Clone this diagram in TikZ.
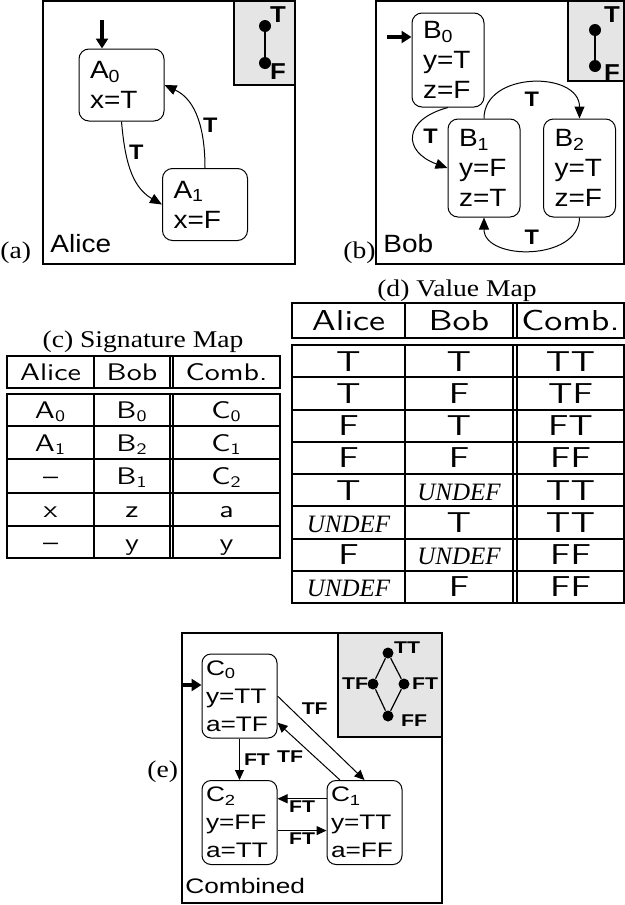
\documentclass[tikz,border=0pt]{standalone}
\usepackage{fontspec}
\setmainfont{Liberation Serif}
\newfontfamily\dgfont[FakeStretch=1.12]{Liberation Sans}
\newfontfamily\dgfontc[FakeStretch=1.25]{Liberation Sans}
\newfontfamily\capfont[FakeStretch=1.15]{Liberation Serif}
\newfontfamily\tabfont[FakeStretch=1.25]{lmsans10-regular.otf}
\usetikzlibrary{arrows.meta,positioning}

\newcommand{\undefval}{{\rmfamily\itshape\fontsize{12.5}{14}\selectfont UNDEF}}

\tikzset{
  st/.style={draw, line width=.5pt, rounded corners=5pt, align=left, inner xsep=5.5pt, inner ysep=0pt, text width=#1, font=\dgfont\fontsize{12.5}{15}\selectfont},
  stc/.style={draw, line width=.5pt, rounded corners=4.5pt, align=left, inner xsep=2pt, inner ysep=0pt, text width=33.5pt, minimum height=42pt, font=\dgfontc\fontsize{10.5}{14}\selectfont},
  trans/.style={-{Triangle[length=6pt,width=5pt]}, line width=.5pt},
  transc/.style={-{Triangle[length=5pt,width=4.5pt]}, line width=.5pt},
  init/.style={-{Triangle[length=5pt,width=6pt]}, line width=1.6pt},
  lbl/.style={font=\dgfont\bfseries\fontsize{10.5}{12}\selectfont, inner sep=1.5pt},
  latlbl/.style={font=\dgfont\bfseries\fontsize{11.5}{13}\selectfont, inner sep=0pt},
  lblc/.style={font=\dgfontc\bfseries\fontsize{8.5}{10}\selectfont, inner sep=1pt},
  panel/.style={line width=.6pt},
  lat/.style={draw, fill=black!10, line width=.6pt},
  dot/.style={circle, fill, inner sep=0pt, minimum size=#1},
  dot/.default=6pt,
  captxt/.style={font=\capfont\fontsize{12}{14}\selectfont, inner sep=0pt},
  pname/.style={font=\dgfont\fontsize{12.5}{15}\selectfont, inner sep=0pt},
  tabc/.style={font=\tabfont\fontsize{12}{14}\selectfont, inner sep=0pt, anchor=base},
  tabd/.style={font=\tabfont\fontsize{14.4}{16}\selectfont, inner sep=0pt, anchor=base},
  rule/.style={line width=1pt},
}

\begin{document}
\begin{tikzpicture}[x=.5pt,y=.5pt]
\useasboundingbox (0,0) rectangle (625,-905);

% (a) Alice
\draw[panel] (43,-1) rectangle (295,-264);
\draw[lat] (234,-1) rectangle (295,-85);
\node[dot] (aT) at (265,-26) {};
\node[dot] (aF) at (265,-63) {};
\draw[line width=.6pt] (aT) -- (aF);
\node[latlbl] (aTl) at (278,-15) {T};
\node[latlbl] (aFl) at (278,-72) {F};
\node[st=31.5pt, minimum height=36pt] (A0) at (121.5,-85) {A\textsubscript{0}\\x=T};
\node[st=31.5pt, minimum height=36pt] (A1) at (205,-204.5) {A\textsubscript{1}\\x=F};
\coordinate (ainit) at (102,-20);
\draw[init] (ainit) -- (ainit |- A0.north);
\draw[trans] (A0.south) to[out=-85,in=150] node[lbl, pos=.3, right] (ta1) {T} (A1.west);
\draw[trans] (A1.north) to[out=90,in=-25] node[lbl, pos=.42, right] (ta2) {T} (A0.east);
\node[pname, anchor=base west] (alice) at (50,-252) {Alice};
\node[captxt, anchor=base west] (capa) at (0,-258) {(a)};

% (b) Bob
\draw[panel] (376,-1) rectangle (624,-264);
\draw[lat] (568,-1) rectangle (624,-81);
\node[dot] (bT) at (595,-30) {};
\node[dot] (bF) at (595,-66) {};
\draw[line width=.6pt] (bT) -- (bF);
\node[latlbl] (bTl) at (612,-15) {T};
\node[latlbl] (bFl) at (612,-73) {F};
\node[st=25pt, minimum height=47pt] (B0) at (448,-60) {B\textsubscript{0}\\y=T\\z=F};
\node[st=25pt, minimum height=49pt] (B1) at (484,-168) {B\textsubscript{1}\\y=F\\z=T};
\node[st=25pt, minimum height=49pt] (B2) at (579.5,-168) {B\textsubscript{2}\\y=T\\z=F};
\coordinate (binit) at (387,-37);
\draw[init] (binit) -- (binit -| B0.west);
\draw[trans] (B0.south) to[out=195,in=160,looseness=2] node[lbl, pos=.5, right=3pt] (tb1) {T} (B1.west);
\draw[trans] (B1.north) to[out=90,in=90,looseness=1.28] node[lbl, below=3pt] (tb2) {T} (B2.north);
\draw[trans] (B2.south) to[out=-90,in=-90,looseness=1.17] node[lbl, above=1pt] (tb3) {T} (B1.south);
\node[pname, anchor=base west] (bob) at (383,-252) {Bob};
\node[captxt, anchor=base west] (capb) at (343,-258) {(b)};

% (c) Signature Map
\node[captxt, anchor=base] (capc) at (143,-347) {(c) Signature Map};
\draw[rule] (7,-356) rectangle (280,-388);
\draw[rule] (7,-394) rectangle (280,-558);
\foreach \x in {94,170,173} {
  \draw[rule] (\x,-356) -- (\x,-388);
  \draw[rule] (\x,-394) -- (\x,-558);
}
\foreach \y in {426,459,493,526}
  \draw[rule] (7,-\y) -- (280,-\y);
\node[tabc] (sh1) at (50.5,-380) {Alice};
\node[tabc] (sh2) at (132,-380) {Bob};
\node[tabc] (sh3) at (226.5,-380) {Comb.};
\foreach \a/\b/\c [count=\i] in {A\textsubscript{0}/B\textsubscript{0}/C\textsubscript{0},
    A\textsubscript{1}/B\textsubscript{2}/C\textsubscript{1},
    –/B\textsubscript{1}/C\textsubscript{2}, x/z/a, –/y/y} {
  \node[tabc] (s\i a) at (50.5,{-418-33*(\i-1)}) {\a};
  \node[tabc] (s\i b) at (132,{-418-33*(\i-1)}) {\b};
  \node[tabc] (s\i c) at (226.5,{-418-33*(\i-1)}) {\c};
}

% (d) Value Map
\node[captxt, anchor=base] (capd) at (457,-296) {(d) Value Map};
\draw[rule] (292,-303) rectangle (624,-338);
\draw[rule] (292,-345) rectangle (624,-603);
\foreach \x in {405,513,517} {
  \draw[rule] (\x,-303) -- (\x,-338);
  \draw[rule] (\x,-345) -- (\x,-603);
}
\foreach \i in {1,...,7}
  \draw[rule] (292,{-345-32.25*\i}) -- (624,{-345-32.25*\i});
\node[tabd] (vh1) at (348.5,-330) {Alice};
\node[tabd] (vh2) at (459,-330) {Bob};
\node[tabd] (vh3) at (570.5,-330) {Comb.};
\foreach \a/\b/\c [count=\i] in {T/T/TT, T/F/TF, F/T/FT, F/F/FF,
    T/\undefval/TT, \undefval/T/TT, F/\undefval/FF, \undefval/F/FF} {
  \node[tabd] (v\i a) at (348.5,{-371-32.25*(\i-1)}) {\a};
  \node[tabd] (v\i b) at (459,{-371-32.25*(\i-1)}) {\b};
  \node[tabd] (v\i c) at (570.5,{-371-32.25*(\i-1)}) {\c};
}

% (e) Combined
\draw[panel] (182,-633) rectangle (442,-903);
\draw[lat] (338,-633) rectangle (442,-737);
\node[dot=5.5pt] (eTT) at (388,-653) {};
\node[dot=5.5pt] (eTF) at (373,-684) {};
\node[dot=5.5pt] (eFT) at (404,-684) {};
\node[dot=5.5pt] (eFF) at (388,-716) {};
\draw[line width=.6pt] (eTT) -- (eTF) -- (eFF) -- (eFT) -- (eTT);
\node[lblc] (eTTl) at (407,-648) {TT};
\node[lblc] (eTFl) at (355,-684) {TF};
\node[lblc] (eFTl) at (425,-684) {FT};
\node[lblc] (eFFl) at (414,-721) {FF};
\node[stc] (C0) at (239.5,-696) {C\textsubscript{0}\\y=TT\\a=TF};
\node[stc] (C2) at (239.5,-822.5) {C\textsubscript{2}\\y=FF\\a=TT};
\node[stc] (C1) at (364.5,-822.5) {C\textsubscript{1}\\y=TT\\a=FF};
\coordinate (cinit) at (182,-685);
\draw[init] (cinit) -- (cinit -| C0.west);
\draw[transc] (C0.south) -- node[lblc, right=1pt] (tc1) {FT} (C2.north);
\draw[transc] (C0.east) -- node[lblc, pos=.25, above right] (tc2) {TF} (C1.north);
\draw[transc] (C1.120) -- node[lblc, pos=.55, below left] (tc3) {TF} (C0.-35);
\draw[transc] (C1.148) -- node[lblc, below] (tc4) {FT} (C2.32);
\draw[transc] (C2.-12) -- node[lblc, below] (tc5) {FT} (C1.192);
\node[pname, font=\dgfontc\fontsize{10.5}{13}\selectfont, anchor=base west] (comb) at (185,-893) {Combined};
\node[captxt, anchor=base west] (cape) at (147,-777) {(e)};
\end{tikzpicture}
\end{document}
